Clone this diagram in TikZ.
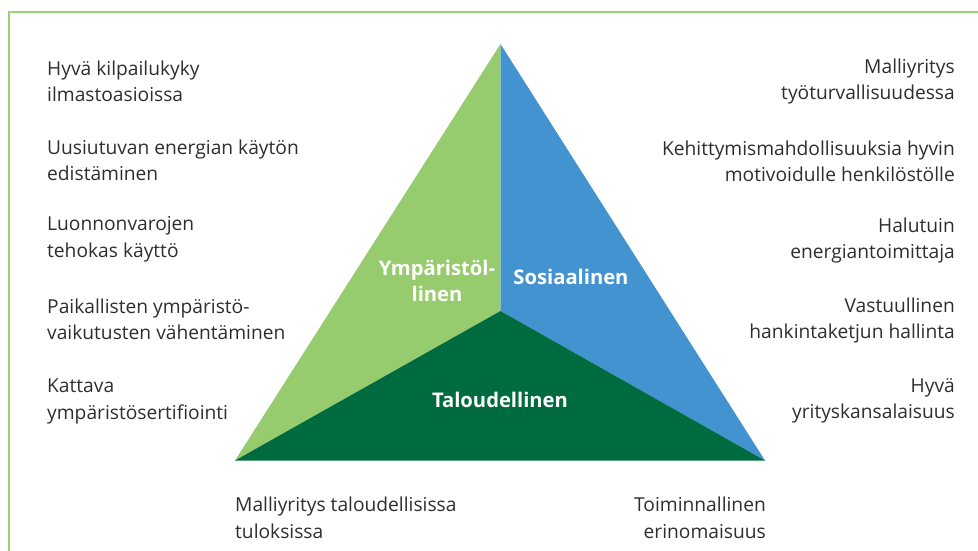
\documentclass[tikz,border=0pt]{standalone}
\usepackage{fontspec}
\setmainfont{Open Sans}
\definecolor{lgreen}{HTML}{97CC6E}
\definecolor{bgreen}{HTML}{9AD27A}
\definecolor{sblue}{HTML}{4393D0}
\definecolor{dgreen}{HTML}{006B3F}
\definecolor{txtgray}{HTML}{2E2E2E}
\tikzset{
  lefttxt/.style={anchor=west, align=left, inner sep=0pt, text=txtgray, font=\fontsize{19.2}{26.5}\selectfont},
  righttxt/.style={anchor=east, align=right, inner sep=0pt, text=txtgray, font=\fontsize{19.2}{26.5}\selectfont},
  seglabel/.style={align=center, inner sep=0pt, text=white, font=\bfseries\fontsize{20.2}{26}\selectfont}
}
\begin{document}
\begin{tikzpicture}[x=1pt,y=-1pt]
\useasboundingbox (0,0) rectangle (978,550);
% frame
\draw[bgreen, line width=2.5pt] (9,552) -- (9,12) -- (980,12);
% triangle
\coordinate (A) at (500.5,44);
\coordinate (B) at (235,460.5);
\coordinate (C) at (765,460.5);
\coordinate (O) at (500.5,311);
\fill[lgreen] (A) -- (O) -- (B) -- cycle;
\fill[sblue] (A) -- (C) -- (O) -- cycle;
\fill[dgreen] (B) -- (O) -- (C) -- cycle;
\node[seglabel] (ymp) at (437,281) {Ympäristöl-\\linen};
\node[seglabel] (sos) at (571,277) {Sosiaalinen};
\node[seglabel] (tal) at (500,400) {Taloudellinen};
% left column
\node[lefttxt] (l1) at (47,81.5) {Hyvä kilpailukyky\\ilmastoasioissa};
\node[lefttxt] (l2) at (47,160.5) {Uusiutuvan energian käytön\\edistäminen};
\node[lefttxt] (l3) at (47,239.5) {Luonnonvarojen\\tehokas käyttö};
\node[lefttxt] (l4) at (47,319.5) {Paikallisten ympäristö-\\vaikutusten vähentäminen};
\node[lefttxt] (l5) at (47,401.5) {Kattava\\ympäristösertifiointi};
% right column
\node[righttxt] (r1) at (955,81.5) {Malliyritys\ \\työturvallisuudessa};
\node[righttxt] (r2) at (955,161.5) {Kehittymismahdollisuuksia hyvin\\motivoidulle henkilöstölle};
\node[righttxt] (r3) at (955,240.5) {Halutuin\\energiantoimittaja};
\node[righttxt] (r4) at (955,320.5) {Vastuullinen\\hankintaketjun hallinta};
\node[righttxt] (r5) at (955,401) {Hyvä\ \\yrityskansalaisuus};
% bottom
\node[lefttxt] (b1) at (235,518) {Malliyritys taloudellisissa\\tuloksissa};
\node[righttxt] (b2) at (766,518) {Toiminnallinen\\erinomaisuus};
\end{tikzpicture}
\end{document}
